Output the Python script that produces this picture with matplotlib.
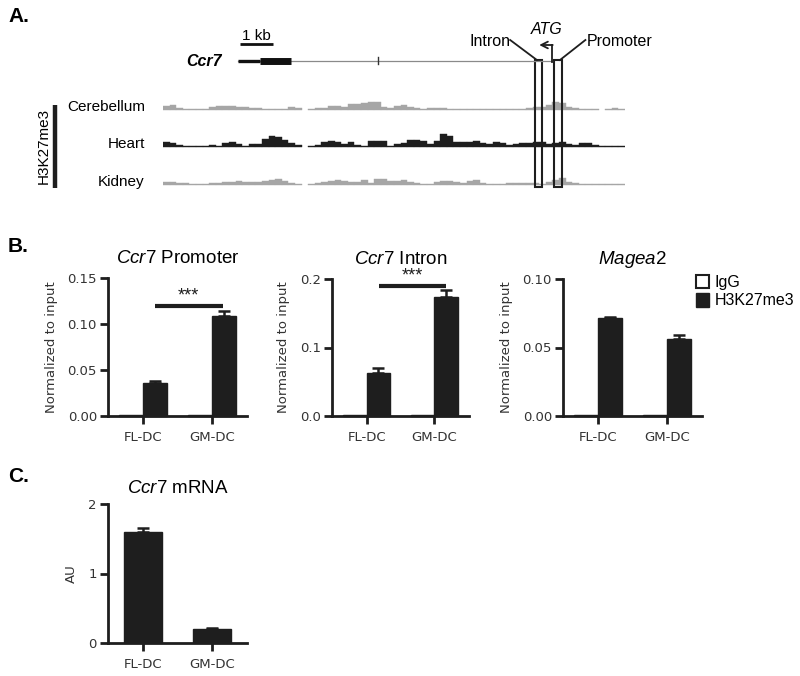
import numpy as np
import matplotlib.pyplot as plt
from matplotlib.patches import Patch, Rectangle

plt.rcParams['font.family'] = ['Liberation Sans', 'DejaVu Sans']
plt.rcParams['mathtext.fontset'] = 'custom'
plt.rcParams['mathtext.it'] = 'Liberation Sans:italic'
plt.rcParams['mathtext.rm'] = 'Liberation Sans'

# ---------------- Panel A: browser tracks (0.2 kb bins) ----------------
bin_kb = 0.2
nan = np.nan
cerebellum = [4, 5, 2, 1, 1, 1.5, 1.5, 3, 4, 4, 4, 3, 3, 2.5, 2, 1, 1.5, 1, 1.5, 3,
              2, nan, 1, 2, 2.5, 4, 4, 3.5, 6, 6, 7, 8, 8, 3, 2, 4, 5, 3, 2, 1.5,
              2, 2.5, 2.5, 1.5, 1, 1, 1.5, 1.5, 1, 1, 1.5, 1, 1, 1.5, 1, 2.5, 3, 3, 5, 8,
              7, 3, 2, 1.5, 1.5, 1, nan, 1.5, 2.5, 1.5]
heart = [5, 4, 2, 1, 1, 1, 1, 2, 1, 4, 5, 3, 1.5, 3, 3, 8, 11, 10, 7, 4,
         2, nan, 1, 2, 5, 6, 5, 3, 5, 2, 1, 6, 6, 6, 1.5, 3, 4, 7, 7, 6,
         3, 6, 13, 11, 5, 5, 5, 6, 4, 3, 5, 4, 2, 3, 4, 4, 5, 5, 3, 4,
         5, 3, 2, 4, 4, 2, 1, 1, 1, 1]
kidney = [3, 3, 2.5, 2, 1.5, 1, 1.5, 2, 2.5, 3, 3.5, 4, 3.5, 3, 3, 4, 5, 6, 4, 2,
          1.5, nan, 1, 2, 3, 4, 5, 4, 3, 3, 5, 2, 6, 6, 4, 4, 5, 3, 2, 1,
          1.5, 3, 4, 4, 3, 2, 4, 5, 2, 1, 1, 1.5, 2, 2, 2, 2, 2, 1.5, 3, 5,
          7, 3, 2, 1, 1, 1, 1, 1, 1, 1]
track_names = ['Cerebellum', 'Heart', 'Kidney']
track_colors = ['#a6a6a6', '#1e1e1e', '#a6a6a6']
track_base = [110, 147, 185]

gene_start, gene_end = 2.27, 11.79
utr = (2.27, 2.94)
cds = (2.94, 3.88)
small_exon = 6.52
intron_box = (11.27, 11.48)
promoter_box = (11.85, 12.09)
scale_bar = (2.33, 3.33)

# ---------------- Panel B: ChIP-qPCR ----------------
groups = ['FL-DC', 'GM-DC']
series = ['IgG', 'H3K27me3']

promoter_igg = [0.001, 0.001]
promoter_h3 = [0.036, 0.109]
promoter_err = [0.002, 0.005]
promoter_ticks = [0.0, 0.05, 0.10, 0.15]
promoter_ticklabels = ['0.00', '0.05', '0.10', '0.15']

intron_igg = [0.002, 0.002]
intron_h3 = [0.063, 0.174]
intron_err = [0.007, 0.010]
intron_ticks = [0.0, 0.1, 0.2]
intron_ticklabels = ['0.0', '0.1', '0.2']

magea_igg = [0.001, 0.001]
magea_h3 = [0.0715, 0.056]
magea_err = [0.0006, 0.003]
magea_ticks = [0.0, 0.05, 0.10]
magea_ticklabels = ['0.00', '0.05', '0.10']

# ---------------- Panel C: mRNA ----------------
mrna = [1.59, 0.20]
mrna_err = [0.07, 0.01]
mrna_ticks = [0, 1, 2]

W, H = 800, 676
INK = '#1e1e1e'
fig = plt.figure(figsize=(8, 6.76), dpi=100)


def fig_rect(x0, y0, x1, y1):
    return [x0 / W, 1 - y1 / H, (x1 - x0) / W, (y1 - y0) / H]


# ===== Panel A =====
axA = fig.add_axes(fig_rect(163, 0, 625, 200))
axA.set_xlim(0, 14)
axA.set_ylim(200, 0)
axA.axis('off')

edges = np.arange(len(heart)) * bin_kb
for vals, col, base in zip([cerebellum, heart, kidney], track_colors, track_base):
    h = np.array(vals, dtype=float)
    axA.bar(edges, -h, width=bin_kb, bottom=base, align='edge',
            color=col, edgecolor=col, linewidth=0.3)

for name, base in zip(track_names, track_base):
    axA.text(-0.55, base - 3, name, ha='right', va='center', fontsize=11, clip_on=False)

axA.plot([-3.27, -3.27], [105, 188], color=INK, lw=3.2, clip_on=False,
         solid_capstyle='butt')
axA.text(-3.62, 146, 'H3K27me3', rotation=90, ha='center', va='center',
         fontsize=11, clip_on=False)

# gene model
axA.plot([gene_start, gene_end], [61, 61], color='#8a8a8a', lw=0.9)
axA.plot(utr, [61, 61], color='#111111', lw=2.4, solid_capstyle='butt')
axA.plot(cds, [61, 61], color='#111111', lw=5, solid_capstyle='butt')
axA.plot([small_exon, small_exon], [57.5, 64.5], color='#333333', lw=1)
axA.text(1.79, 61, 'Ccr7', ha='right', va='center', fontsize=11.5,
         fontweight='bold', style='italic', clip_on=False)
axA.plot(scale_bar, [44, 44], color='#111111', lw=2, solid_capstyle='butt')
axA.text(np.mean(scale_bar), 36, '1 kb', ha='center', va='center', fontsize=11)

for bx in [intron_box, promoter_box]:
    axA.add_patch(Rectangle((bx[0], 60), bx[1] - bx[0], 127, fill=False,
                            edgecolor=INK, lw=1.5))

# TSS bent arrow
axA.plot([11.79, 11.79], [62, 45], color=INK, lw=1.3)
axA.annotate('', xy=(11.40, 45), xytext=(11.81, 45),
             arrowprops=dict(arrowstyle='->', color=INK, lw=1.3,
                             shrinkA=0, shrinkB=0, mutation_scale=12))
axA.text(11.64, 29, 'ATG', ha='center', va='center', fontsize=11.5, style='italic')
axA.text(10.52, 41, 'Intron', ha='right', va='center', fontsize=11.5)
axA.plot([10.52, 11.33], [40, 60], color=INK, lw=1.3)
axA.text(12.83, 41, 'Promoter', ha='left', va='center', fontsize=11.5)
axA.plot([12.80, 12.03], [40, 60], color=INK, lw=1.3)

fig.text(8 / W, 1 - 17 / H, 'A.', fontsize=15, fontweight='bold', va='center')
fig.text(8 / W, 1 - 247 / H, 'B.', fontsize=15, fontweight='bold', va='center')
fig.text(8 / W, 1 - 477 / H, 'C.', fontsize=15, fontweight='bold', va='center')


def style_axis(ax, ticks, ticklabels, ylabel, label_x):
    for s in ['top', 'right']:
        ax.spines[s].set_visible(False)
    for s in ['left', 'bottom']:
        ax.spines[s].set_linewidth(2)
        ax.spines[s].set_color(INK)
    ax.set_xlim(-0.51, 1.51)
    ax.set_ylim(ticks[0], ticks[-1])
    ax.set_yticks(ticks)
    ax.set_yticklabels(ticklabels)
    ax.set_xticks([0, 1])
    ax.set_xticklabels(groups)
    ax.tick_params(axis='both', width=2, length=6, color=INK,
                   labelsize=9.5, labelcolor='#333333', pad=2)
    ax.tick_params(axis='x', pad=5)
    for lab in ax.get_xticklabels() + ax.get_yticklabels():
        lab.set_fontfamily('DejaVu Sans')
    ax.set_ylabel(ylabel, fontsize=9.5, color='#333333', fontfamily='DejaVu Sans')
    ax.yaxis.set_label_coords(label_x, 0.5)


def chip_panel(rect, title, igg, h3, err, ticks, ticklabels, label_x, sig=None):
    ax = fig.add_axes(rect)
    x = np.arange(len(groups))
    w = 0.35
    ax.bar(x - w / 2, igg, width=w, color='white', edgecolor=INK, lw=1,
           label=series[0], clip_on=False)
    ax.bar(x + w / 2, h3, width=w, color=INK, edgecolor=INK, lw=1,
           label=series[1], clip_on=False)
    ax.errorbar(x + w / 2, h3, yerr=[np.zeros(len(err)), err], fmt='none',
                ecolor=INK, elinewidth=1.8, capsize=4, capthick=1.8,
                clip_on=False)
    style_axis(ax, ticks, ticklabels, 'Normalized to input', label_x)
    ax.set_title(title, fontsize=13.5, pad=11)
    if sig is not None:
        x0, x1, yv = sig
        ax.plot([x0, x1], [yv, yv], color=INK, lw=3, clip_on=False,
                solid_capstyle='butt')
        ax.text((x0 + x1) / 2, yv + (ticks[-1] - ticks[0]) * 0.01, '***',
                ha='center', va='bottom', fontsize=13, color=INK)
    return ax


chip_panel(fig_rect(108, 278, 247, 416), r'$\it{Ccr7}$ Promoter', promoter_igg,
           promoter_h3, promoter_err, promoter_ticks, promoter_ticklabels,
           -0.36, sig=(0.17, 1.16, 0.12))
chip_panel(fig_rect(332, 279, 469, 416), r'$\it{Ccr7}$ Intron', intron_igg,
           intron_h3, intron_err, intron_ticks, intron_ticklabels,
           -0.31, sig=(0.19, 1.17, 0.19))
ax3 = chip_panel(fig_rect(563, 279, 702, 416), r'$\it{Magea2}$', magea_igg,
                 magea_h3, magea_err, magea_ticks, magea_ticklabels, -0.36)

handles = [Patch(facecolor='white', edgecolor=INK, lw=1.5, label=series[0]),
           Patch(facecolor=INK, edgecolor=INK, label=series[1])]
ax3.legend(handles=handles, loc='upper left', bbox_to_anchor=(696 / W, 1 - 275 / H),
           bbox_transform=fig.transFigure, frameon=False, fontsize=11.5,
           handlelength=0.8, handleheight=0.9, handletextpad=0.35,
           labelspacing=0.2, borderpad=0, borderaxespad=0)

# ===== Panel C =====
axC = fig.add_axes(fig_rect(108, 504, 247, 643))
xc = np.arange(len(groups))
axC.bar(xc, mrna, width=0.55, color=INK, edgecolor=INK)
axC.errorbar(xc, mrna, yerr=[np.zeros(len(mrna_err)), mrna_err], fmt='none',
             ecolor=INK, elinewidth=1.8, capsize=4, capthick=1.8)
style_axis(axC, mrna_ticks, [str(t) for t in mrna_ticks], 'AU', -0.22)
axC.set_title(r'$\it{Ccr7}$ mRNA', fontsize=13.5, pad=8)

fig.savefig('out.png', dpi=100)
